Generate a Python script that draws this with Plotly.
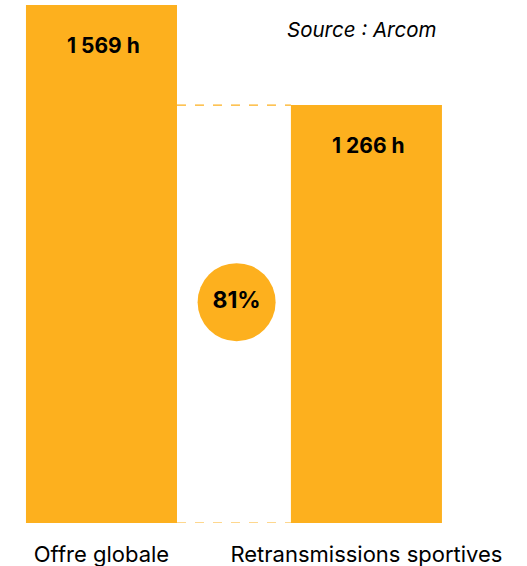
import plotly.graph_objects as go

categories = ["Offre globale", "Retransmissions sportives"]
values = [1569, 1266]
value_labels = ["1 569 h", "1 266 h"]
ratio_label = "81%"
source_text = "Source : Arcom"

ORANGE = "#FDB01E"
FONT = "Inter"
bar_w = 0.57

xs = [0, 1]
fig = go.Figure()
fig.add_trace(go.Bar(x=xs, y=values, width=bar_w, marker=dict(color=ORANGE, line=dict(width=0)),
                     hoverinfo="skip"))

# ratio circle
fig.add_trace(go.Scatter(x=[0.51], y=[669], mode="markers+text", text=[ratio_label],
                         textposition="middle center",
                         textfont=dict(family=FONT, size=23, color="black", weight="bold"),
                         marker=dict(size=78, color=ORANGE, line=dict(width=0)),
                         hoverinfo="skip"))

# dashed connectors
for yv in [values[1], 0]:
    fig.add_shape(type="line", xref="x", yref="y", x0=xs[0] + bar_w / 2, x1=xs[1] - bar_w / 2,
                  y0=yv, y1=yv, line=dict(color=ORANGE, width=1.2, dash="dash"))

for x, v, lab in zip(xs, values, value_labels):
    fig.add_annotation(x=x, y=v, text=f"<b>{lab}</b>", showarrow=False, yshift=-40, xshift=2,
                       font=dict(family=FONT, size=21, color="black"))

fig.add_annotation(x=0.686, y=0.952, xref="paper", yref="paper", text=f"<i>{source_text}</i>",
                   showarrow=False, xanchor="center", yanchor="middle",
                   font=dict(family=FONT, size=20.5, color="black"))

fig.update_layout(
    width=527, height=566, margin=dict(l=0, r=0, t=5, b=43),
    paper_bgcolor="white", plot_bgcolor="white", showlegend=False,
    xaxis=dict(range=[-0.383, 1.606], tickvals=xs, ticktext=categories, showgrid=False,
               zeroline=False, showline=False, ticks="", fixedrange=True,
               tickfont=dict(family=FONT, size=22, color="black"), ticklabelstandoff=16),
    yaxis=dict(range=[0, 1569], visible=False, fixedrange=True),
)
fig.write_html("out.html", config={"displayModeBar": False},
               post_script="document.body.style.margin='0';")
